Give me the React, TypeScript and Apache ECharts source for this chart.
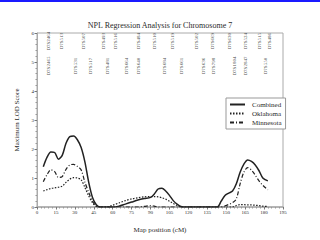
import React, { useEffect, useRef } from "react";
import * as echarts from "echarts";

const mapPos = [5, 8, 11, 14, 17, 20, 23, 26, 29, 32, 35, 38, 41, 44, 47, 50, 55, 60, 65, 70, 75, 80, 85, 90, 93, 96, 99, 102, 105, 108, 111, 114, 118, 125, 135, 140, 143, 146, 149, 152, 155, 158, 161, 164, 167, 170, 173, 176, 179, 183];

const combined = [1.39, 1.72, 1.9, 1.88, 1.65, 1.78, 2.2, 2.43, 2.45, 2.32, 2.05, 1.55, 0.85, 0.33, 0.08, 0, 0, 0, 0.03, 0.1, 0.17, 0.24, 0.29, 0.33, 0.45, 0.62, 0.65, 0.55, 0.4, 0.22, 0.1, 0.02, 0, 0, 0, 0, 0, 0.2, 0.4, 0.48, 0.55, 0.8, 1.2, 1.48, 1.62, 1.57, 1.45, 1.25, 1.0, 0.9];

const oklahoma = [0.55, 0.6, 0.64, 0.66, 0.68, 0.72, 0.85, 0.96, 1.01, 1.0, 0.94, 0.67, 0.38, 0.15, 0.02, 0, 0, 0.06, 0.14, 0.22, 0.28, 0.32, 0.35, 0.36, 0.36, 0.35, 0.32, 0.27, 0.2, 0.12, 0.05, 0, 0, 0, 0, 0, 0, 0, 0, 0, 0, 0.05, 0.08, 0.08, 0.07, 0.07, 0.06, 0.05, 0.03, 0.02];

const minnesota = [0.87, 1.12, 1.28, 1.22, 1.02, 1.05, 1.3, 1.45, 1.47, 1.4, 1.28, 0.85, 0.5, 0.2, 0.03, 0, 0, 0, 0, 0, 0, 0, 0.02, 0.05, 0.03, 0, 0, 0, 0, 0, 0, 0, 0, 0, 0, 0, 0, 0, 0.04, 0.09, 0.15, 0.28, 0.8, 1.2, 1.36, 1.27, 1.1, 0.9, 0.75, 0.59];

const markersTop = ["D7S2464", "D7S513", "D7S507", "D7S493", "D7S516", "D7S484", "D7S510", "D7S519", "D7S502", "D7S669", "D7S630", "D7S524", "D7S515", "D7S486"];
const markersTopPos = [9.4, 19.8, 36.7, 52.7, 62.3, 80.8, 92.8, 107.2, 126.5, 139.3, 152.2, 165, 176.2, 184.2];
const markersTopY = 5.72;

const markersBottom = ["D7S2465", "D7S531", "D7S517", "D7S481", "D7S664", "D7S640", "D7S684", "D7S661", "D7S636", "D7S798", "D7S1804", "D7S2847", "D7S550"];
const markersBottomPos = [9.4, 30.2, 42.3, 55.9, 71.1, 80.8, 100.8, 114.4, 132, 140.1, 156.9, 165, 181];
const markersBottomY = 4.86;

const FONT = "Liberation Serif";
const INK = "#2a2a2a";

export default function App() {
  const ref = useRef<HTMLDivElement>(null);
  useEffect(() => {
    const chart = echarts.init(ref.current!, null, { renderer: "svg" });
    const pairs = (ys: number[]) => mapPos.map((x, i) => [x, ys[i]]);
    const markerData = [
      ...markersTop.map((n, i) => ({ name: n, value: [markersTopPos[i], markersTopY] })),
      ...markersBottom.map((n, i) => ({ name: n, value: [markersBottomPos[i], markersBottomY] })),
    ];
    const lineSeries = (name: string, ys: number[], width: number, type: any) => ({
      name,
      type: "line",
      data: pairs(ys),
      smooth: 0.3,
      symbol: "none",
      legendIcon: "none",
      lineStyle: { color: "#222", width, type },
      itemStyle: { color: "#222" },
    });
    chart.setOption({
      animation: false,
      backgroundColor: "#ffffff",
      title: {
        text: "NPL Regression Analysis for Chromosome 7",
        left: "center",
        top: 16,
        textStyle: { fontFamily: FONT, fontSize: 8, fontWeight: "normal", color: INK },
      },
      graphic: [
        { type: "rect", left: 0, top: 0, shape: { width: 320, height: 2 }, style: { fill: "#1a1aff" } },
      ],
      legend: {
        data: ["Combined", "Oklahoma", "Minnesota"],
        orient: "vertical",
        left: 226,
        top: 98,
        padding: [3, 4, 3, 3],
        itemGap: 2,
        itemWidth: 15,
        itemHeight: 7,
        borderColor: "#999",
        borderWidth: 1,
        backgroundColor: "#fff",
        itemStyle: { opacity: 0 },
        textStyle: { fontFamily: FONT, fontSize: 7, color: INK, padding: [0, 0, 0, 2] },
      },
      grid: {
        left: 37,
        right: 37,
        top: 33,
        bottom: 33,
        show: true,
        borderColor: "#aaa",
        borderWidth: 1,
      },
      xAxis: {
        type: "value",
        min: 0,
        max: 195,
        interval: 15,
        name: "Map position (cM)",
        nameLocation: "middle",
        nameGap: 19,
        nameTextStyle: { fontFamily: FONT, fontSize: 7, color: INK },
        axisLine: { show: true, lineStyle: { color: "#aaa", width: 1.5 } },
        axisTick: { show: true, length: 2.5, lineStyle: { color: "#777" } },
        minorTick: { show: true, splitNumber: 5, length: 1.5, lineStyle: { color: "#999" } },
        splitLine: { show: false },
        axisLabel: { fontFamily: FONT, fontSize: 5, color: INK, margin: 3 },
      },
      yAxis: {
        type: "value",
        min: 0,
        max: 6,
        interval: 1,
        name: "Maximum LOD Score",
        nameLocation: "middle",
        nameGap: 15,
        nameTextStyle: { fontFamily: FONT, fontSize: 7, color: INK },
        axisLine: { show: true, lineStyle: { color: "#aaa", width: 1 } },
        axisTick: { show: true, length: 2.5, lineStyle: { color: "#777" } },
        minorTick: { show: true, splitNumber: 5, length: 1.5, lineStyle: { color: "#999" } },
        splitLine: { show: false },
        axisLabel: { fontFamily: FONT, fontSize: 5, color: INK, margin: 3 },
      },
      series: [
        lineSeries("Combined", combined, 1.5, "solid"),
        lineSeries("Oklahoma", oklahoma, 1.2, [1.5, 1.5]),
        lineSeries("Minnesota", minnesota, 1.2, [4, 2, 1, 2]),
        {
          name: "markers",
          type: "scatter",
          data: markerData,
          symbolSize: 0,
          silent: true,
          label: {
            show: true,
            position: "inside",
            rotate: 90,
            formatter: "{b}",
            fontFamily: FONT,
            fontSize: 5,
            color: "#111",
          },
        },
      ],
    });
    return () => chart.dispose();
  }, []);
  return <div ref={ref} style={{ position: "absolute", left: 0, top: 0, width: 320, height: 240 }} />;
}
